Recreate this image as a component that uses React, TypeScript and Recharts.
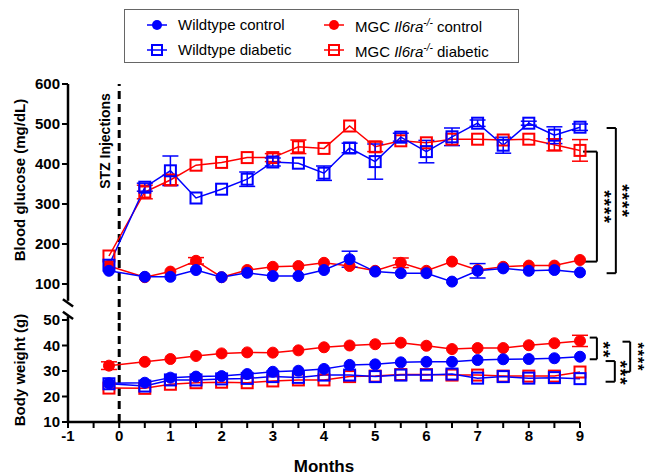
import React from 'react';
import { LineChart, Line, XAxis, YAxis, ReferenceLine, ErrorBar } from 'recharts';

const u = undefined;
const months = [-0.2, 0.5, 1, 1.5, 2, 2.5, 3, 3.5, 4, 4.5, 5, 5.5, 6, 6.5, 7, 7.5, 8, 8.5, 9];
const xTicks = [-1, -0.5, 0, 0.5, 1, 1.5, 2, 2.5, 3, 3.5, 4, 4.5, 5, 5.5, 6, 6.5, 7, 7.5, 8, 8.5, 9];
const glucoseTicks = [100, 200, 300, 400, 500, 600];
const weightTicks = [10, 20, 30, 40, 50];

// Blood glucose (mg/dL)
const glucoseWtControl = [133, 118, 118, 135, 117, 128, 120, 120, 135, 162, 131, 127, 127, 106, 133, 139, 133, 135, 129];
const glucoseWtDiabetic = [147, 342, 383, 315, 337, 362, 405, 402, 377, 440, 406, 467, 431, 468, 502, 447, 502, 472, 492];
const glucoseKoControl = [145, 117, 131, 158, 117, 135, 143, 145, 153, 145, 133, 153, 133, 156, 135, 143, 146, 146, 160];
const glucoseKoDiabetic = [170, 330, 360, 397, 404, 416, 416, 443, 439, 495, 443, 458, 453, 462, 462, 460, 462, 448, 434];
const glucoseWtControlErr = [u, u, u, u, u, u, u, u, u, 20, u, u, u, u, 18, u, u, u, u];
const glucoseWtDiabeticErr = [u, 10, 37, u, u, 18, 10, u, 18, 12, 44, 10, 28, 22, 8, 20, 5, 21, 8];
const glucoseKoControlErr = [u, u, u, 8, u, u, u, u, u, u, u, 12, u, u, u, u, u, u, u];
const glucoseKoDiabeticErr = [u, 17, 12, u, u, u, 10, 17, u, u, 12, u, u, u, u, u, u, 15, 27];

// Body weight (g)
const weightWtControl = [25.2, 25.4, 27.4, 27.8, 28.0, 28.8, 29.7, 30.1, 30.8, 32.4, 32.6, 33.4, 33.6, 33.6, 34.3, 34.6, 34.7, 35.0, 35.6];
const weightWtDiabetic = [25.0, 24.1, 26.5, 26.5, 26.9, 27.1, 27.8, 27.5, 28.4, 28.4, 27.8, 28.4, 28.4, 28.8, 27.2, 27.8, 27.2, 27.4, 27.0];
const weightKoControl = [32.1, 33.6, 34.7, 35.9, 36.9, 37.3, 37.2, 38.1, 39.3, 40.0, 40.5, 41.1, 39.9, 38.6, 39.0, 39.0, 40.1, 40.9, 41.8];
const weightKoDiabetic = [23.3, 23.2, 24.8, 25.4, 25.6, 25.4, 26.1, 26.5, 26.5, 27.8, 28.0, 28.6, 28.6, 28.4, 28.4, 28.0, 28.0, 28.0, 29.6];
const weightKoControlErr = [1.5, u, u, u, u, u, u, u, u, u, u, u, u, u, u, u, u, u, 2.2];

const BLUE = '#0000ff';
const RED = '#ff0000';
const FONT = '"Liberation Sans", Arial, sans-serif';

const glucoseData = months.map((m, i) => ({
  m,
  wc: glucoseWtControl[i], wd: glucoseWtDiabetic[i], mc: glucoseKoControl[i], md: glucoseKoDiabetic[i],
  wcE: glucoseWtControlErr[i], wdE: glucoseWtDiabeticErr[i], mcE: glucoseKoControlErr[i], mdE: glucoseKoDiabeticErr[i],
}));
const weightData = months.map((m, i) => ({
  m,
  wc: weightWtControl[i], wd: weightWtDiabetic[i], mc: weightKoControl[i], md: weightKoDiabetic[i],
  mcE: weightKoControlErr[i],
}));

// drawing order: red first, blue on top
const series = [
  { key: 'md', color: RED, shape: 'square' },
  { key: 'mc', color: RED, shape: 'circle' },
  { key: 'wd', color: BLUE, shape: 'square' },
  { key: 'wc', color: BLUE, shape: 'circle' },
];

const makeDot = (color: string, shape: string) => (props: any) => {
  const { cx, cy, index } = props;
  if (cx == null || cy == null) return <g key={index} />;
  if (shape === 'circle') {
    return <circle key={index} cx={cx} cy={cy} r={5.5} fill={color} stroke={color} strokeWidth={1} />;
  }
  return <rect key={index} x={cx - 5.5} y={cy - 5.5} width={11} height={11} fill="none" stroke={color} strokeWidth={2} />;
};

const tickStyle = { fontSize: 15, fontWeight: 'bold', fill: '#000', fontFamily: FONT };
const axisStroke = { stroke: '#000', strokeWidth: 2.5 };
const tickLineStyle = { stroke: '#000', strokeWidth: 2 };
const bk = { stroke: '#000', strokeWidth: 2, ifOverflow: 'visible' as const };

const renderSeries = (errKeys: Record<string, string | undefined>) =>
  series.map((s) => (
    <Line
      key={s.key}
      type="linear"
      dataKey={s.key}
      stroke={s.color}
      strokeWidth={1.5}
      dot={makeDot(s.color, s.shape)}
      activeDot={false}
      isAnimationActive={false}
    >
      {errKeys[s.key] ? (
        <ErrorBar dataKey={errKeys[s.key] as string} width={8} stroke={s.color} strokeWidth={1.5} direction="y" />
      ) : null}
    </Line>
  ));

const legendItems = [
  { left: 147, top: 25, color: BLUE, shape: 'circle', label: <>Wildtype control</> },
  { left: 147, top: 50, color: BLUE, shape: 'square', label: <>Wildtype diabetic</> },
  { left: 324, top: 25, color: RED, shape: 'circle', label: <>MGC <i>Il6ra</i><sup style={{ fontSize: 10, fontStyle: 'italic' }}>-/-</sup> control</> },
  { left: 324, top: 50, color: RED, shape: 'square', label: <>MGC <i>Il6ra</i><sup style={{ fontSize: 10, fontStyle: 'italic' }}>-/-</sup> diabetic</> },
];

const Stars = ({ x, y, text, size = 19 }: { x: number; y: number; text: string; size?: number }) => (
  <text
    transform={`translate(${x},${y}) rotate(90)`}
    textAnchor="middle"
    dominantBaseline="central"
    fontSize={size}
    fontWeight="bold"
    letterSpacing={1}
    fontFamily={FONT}
    fill="#000"
  >
    {text}
  </text>
);

export default function App() {
  return (
    <div style={{ position: 'absolute', left: 0, top: 0, width: 648, height: 476, background: '#fff', fontFamily: FONT }}>
      {/* Blood glucose panel */}
      <div style={{ position: 'absolute', left: 0, top: 0 }}>
        <LineChart width={648} height={320} data={glucoseData} margin={{ top: 84, right: 68, bottom: 0, left: 0 }}>
          <XAxis type="number" dataKey="m" domain={[-1, 9]} ticks={xTicks} hide />
          <YAxis
            type="number"
            width={68}
            domain={[10, 600]}
            ticks={glucoseTicks}
            axisLine={false}
            tickLine={tickLineStyle}
            tickSize={6}
            tick={tickStyle}
            interval={0}
          />
          <ReferenceLine segment={[{ x: -1, y: 58 }, { x: -1, y: 600 }]} {...axisStroke} ifOverflow="visible" />
          <ReferenceLine segment={[{ x: -1.1, y: 62 }, { x: -0.9, y: 44 }]} {...axisStroke} ifOverflow="visible" />
          <ReferenceLine x={0} stroke="#000" strokeWidth={3} strokeDasharray="8 5" />
          {/* significance brackets */}
          <ReferenceLine segment={[{ x: 9.33, y: 431 }, { x: 9.33, y: 156 }]} {...bk} />
          <ReferenceLine segment={[{ x: 9.06, y: 431 }, { x: 9.33, y: 431 }]} {...bk} />
          <ReferenceLine segment={[{ x: 9.06, y: 156 }, { x: 9.33, y: 156 }]} {...bk} />
          <ReferenceLine segment={[{ x: 9.7, y: 490 }, { x: 9.7, y: 127 }]} {...bk} />
          <ReferenceLine segment={[{ x: 9.52, y: 490 }, { x: 9.7, y: 490 }]} {...bk} />
          <ReferenceLine segment={[{ x: 9.52, y: 127 }, { x: 9.7, y: 127 }]} {...bk} />
          {renderSeries({ wc: 'wcE', wd: 'wdE', mc: 'mcE', md: 'mdE' })}
        </LineChart>
      </div>

      {/* Body weight panel */}
      <div style={{ position: 'absolute', left: 0, top: 300 }}>
        <LineChart width={648} height={176} data={weightData} margin={{ top: 20, right: 68, bottom: 0, left: 0 }}>
          <XAxis
            type="number"
            dataKey="m"
            domain={[-1, 9]}
            ticks={xTicks}
            interval={0}
            height={54}
            axisLine={axisStroke}
            tickLine={tickLineStyle}
            tickSize={6}
            tick={tickStyle}
            tickFormatter={(v: number) => (Number.isInteger(v) ? String(v) : '')}
            label={{ value: 'Months', position: 'insideBottom', offset: 4, style: { fontSize: 17, fontWeight: 'bold', fill: '#000', fontFamily: FONT } }}
          />
          <YAxis
            type="number"
            width={68}
            domain={[10, 50]}
            ticks={weightTicks}
            axisLine={axisStroke}
            tickLine={tickLineStyle}
            tickSize={6}
            tick={tickStyle}
            interval={0}
          />
          <ReferenceLine segment={[{ x: -1, y: 50 }, { x: -1, y: 51.5 }]} {...axisStroke} ifOverflow="visible" />
          <ReferenceLine segment={[{ x: -1.1, y: 53.2 }, { x: -0.9, y: 50.4 }]} {...axisStroke} ifOverflow="visible" />
          <ReferenceLine x={0} stroke="#000" strokeWidth={3} strokeDasharray="8 5" />
          <ReferenceLine segment={[{ x: 9.33, y: 43.1 }, { x: 9.33, y: 34.6 }]} {...bk} />
          <ReferenceLine segment={[{ x: 9.19, y: 43.1 }, { x: 9.33, y: 43.1 }]} {...bk} />
          <ReferenceLine segment={[{ x: 9.19, y: 34.6 }, { x: 9.33, y: 34.6 }]} {...bk} />
          <ReferenceLine segment={[{ x: 9.68, y: 33.9 }, { x: 9.68, y: 25.8 }]} {...bk} />
          <ReferenceLine segment={[{ x: 9.5, y: 33.9 }, { x: 9.68, y: 33.9 }]} {...bk} />
          <ReferenceLine segment={[{ x: 9.5, y: 25.8 }, { x: 9.68, y: 25.8 }]} {...bk} />
          <ReferenceLine segment={[{ x: 9.98, y: 41.5 }, { x: 9.98, y: 29.7 }]} {...bk} />
          <ReferenceLine segment={[{ x: 9.83, y: 41.5 }, { x: 9.98, y: 41.5 }]} {...bk} />
          <ReferenceLine segment={[{ x: 9.83, y: 29.7 }, { x: 9.98, y: 29.7 }]} {...bk} />
          {renderSeries({ mc: 'mcE' })}
        </LineChart>
      </div>

      {/* text annotations */}
      <svg width={648} height={476} style={{ position: 'absolute', left: 0, top: 0, pointerEvents: 'none' }}>
        <text transform="translate(19,180) rotate(-90)" textAnchor="middle" dominantBaseline="central" fontSize={15} fontWeight="bold" fontFamily={FONT} fill="#000">
          Blood glucose (mg/dL)
        </text>
        <text transform="translate(19,370) rotate(-90)" textAnchor="middle" dominantBaseline="central" fontSize={15} fontWeight="bold" fontFamily={FONT} fill="#000">
          Body weight (g)
        </text>
        <text transform="translate(105,141) rotate(-90)" textAnchor="middle" dominantBaseline="central" fontSize={14} fontWeight="bold" fontFamily={FONT} fill="#000">
          STZ Injections
        </text>
        <Stars x={604} y={207} text="****" />
        <Stars x={622} y={201} text="****" />
        <Stars x={603} y={350} text="**" />
        <Stars x={620} y={373} text="***" />
        <Stars x={637} y={357} text="****" size={16} />
      </svg>

      {/* legend */}
      <div style={{ position: 'absolute', left: 124, top: 9, width: 395, height: 54, border: '1px solid #666', boxSizing: 'border-box' }} />
      {legendItems.map((it, i) => (
        <div key={i} style={{ position: 'absolute', left: it.left, top: it.top - 10, height: 20, display: 'flex', alignItems: 'center' }}>
          <svg width={20} height={20} style={{ display: 'block' }}>
            <line x1={0} y1={10} x2={20} y2={10} stroke={it.color} strokeWidth={1.5} />
            {it.shape === 'circle' ? (
              <circle cx={10} cy={10} r={5} fill={it.color} />
            ) : (
              <rect x={5} y={5} width={10} height={10} fill="none" stroke={it.color} strokeWidth={2} />
            )}
          </svg>
          <span style={{ marginLeft: 11, fontSize: 15, color: '#000', whiteSpace: 'nowrap', lineHeight: '20px' }}>{it.label}</span>
        </div>
      ))}
    </div>
  );
}
